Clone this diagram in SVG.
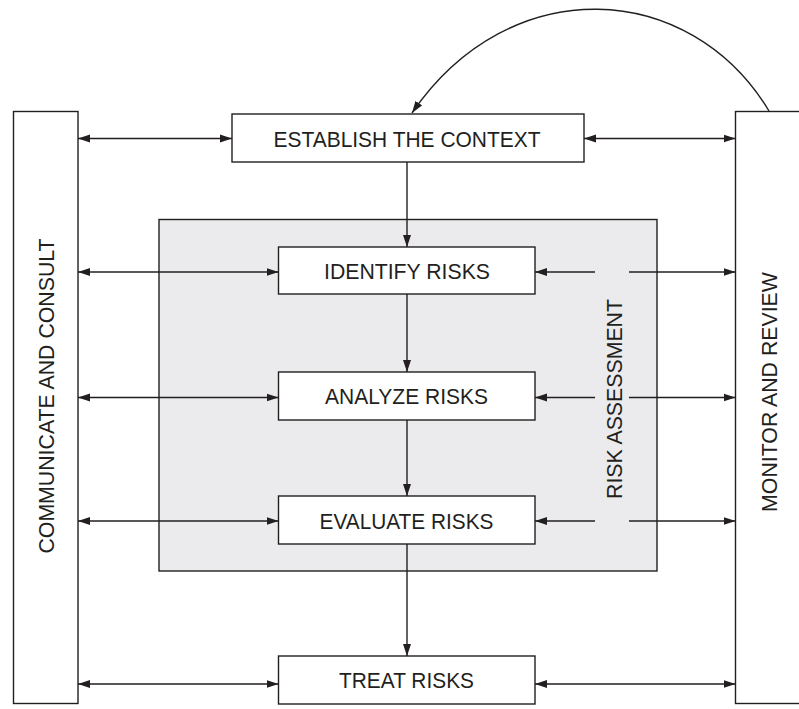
<svg xmlns="http://www.w3.org/2000/svg" width="799" height="709" viewBox="0 0 799 709">
<style>
.box{fill:#ffffff;stroke:#231f20;stroke-width:1.4}
.bar{fill:#ffffff;stroke:#231f20;stroke-width:1.4}
.grp{fill:#ebebed;stroke:#231f20;stroke-width:1.4}
.ln{fill:none;stroke:#231f20;stroke-width:1.4}
.t{font-family:"Liberation Sans",Arial,sans-serif;font-size:22.5px;fill:#231f20;text-anchor:middle}
.v{font-family:"Liberation Sans",Arial,sans-serif;font-size:21.3px;fill:#231f20;text-anchor:middle}
</style>
<defs>
<marker id="ah" markerUnits="userSpaceOnUse" markerWidth="13" markerHeight="9" refX="12" refY="4.5" orient="auto-start-reverse" viewBox="0 0 13 9">
<path d="M0,0.5 L12,4.5 L0,8.5 z" fill="#231f20"/>
</marker>
</defs>
<rect width="799" height="709" fill="#ffffff"/>
<g id="risk-assessment">
<rect class="grp" x="159" y="219.5" width="498" height="351.5"/>
<text class="v" transform="translate(622,399) rotate(-90)">RISK ASSESSMENT</text>
</g>
<g id="communicate">
<rect class="bar" x="13.5" y="111.5" width="64.5" height="592"/>
<text class="v" transform="translate(53.5,396) rotate(-90)">COMMUNICATE AND CONSULT</text>
</g>
<g id="monitor">
<rect class="bar" x="735.5" y="111.5" width="70" height="592"/>
<text class="v" transform="translate(777,392) rotate(-90)">MONITOR AND REVIEW</text>
</g>
<g id="establish">
<rect class="box" x="232" y="114" width="352" height="48"/>
<text class="t" x="407" y="146.5" textLength="267" lengthAdjust="spacingAndGlyphs">ESTABLISH THE CONTEXT</text>
</g>
<g id="identify">
<rect class="box" x="278.5" y="247" width="256.5" height="47"/>
<text class="t" x="407" y="279" textLength="166" lengthAdjust="spacingAndGlyphs">IDENTIFY RISKS</text>
</g>
<g id="analyze">
<rect class="box" x="278.5" y="372" width="256.5" height="48"/>
<text class="t" x="406.5" y="404" textLength="163" lengthAdjust="spacingAndGlyphs">ANALYZE RISKS</text>
</g>
<g id="evaluate">
<rect class="box" x="278.5" y="496" width="256.5" height="48"/>
<text class="t" x="406.5" y="529" textLength="174" lengthAdjust="spacingAndGlyphs">EVALUATE RISKS</text>
</g>
<g id="treat">
<rect class="box" x="278.5" y="656" width="256.5" height="48"/>
<text class="t" x="406.5" y="688" textLength="135" lengthAdjust="spacingAndGlyphs">TREAT RISKS</text>
</g>
<g id="connectors">
<path class="ln" d="M769,111 C690,-20 510,-30 412,113" marker-end="url(#ah)"/>
<line class="ln" x1="78" y1="138.5" x2="232" y2="138.5" marker-start="url(#ah)" marker-end="url(#ah)"/>
<line class="ln" x1="584" y1="138.5" x2="735.5" y2="138.5" marker-start="url(#ah)" marker-end="url(#ah)"/>
<line class="ln" x1="407" y1="162" x2="407" y2="247" marker-end="url(#ah)"/>
<line class="ln" x1="407" y1="294" x2="407" y2="372" marker-end="url(#ah)"/>
<line class="ln" x1="407" y1="420" x2="407" y2="496" marker-end="url(#ah)"/>
<line class="ln" x1="407" y1="544" x2="407" y2="656" marker-end="url(#ah)"/>
<line class="ln" x1="78" y1="272" x2="278.5" y2="272" marker-start="url(#ah)" marker-end="url(#ah)"/>
<line class="ln" x1="595" y1="272" x2="535" y2="272" marker-end="url(#ah)"/>
<line class="ln" x1="629" y1="272" x2="735.5" y2="272" marker-end="url(#ah)"/>
<line class="ln" x1="78" y1="397.5" x2="278.5" y2="397.5" marker-start="url(#ah)" marker-end="url(#ah)"/>
<line class="ln" x1="595" y1="397.5" x2="535" y2="397.5" marker-end="url(#ah)"/>
<line class="ln" x1="629" y1="397.5" x2="735.5" y2="397.5" marker-end="url(#ah)"/>
<line class="ln" x1="78" y1="521" x2="278.5" y2="521" marker-start="url(#ah)" marker-end="url(#ah)"/>
<line class="ln" x1="595" y1="521" x2="535" y2="521" marker-end="url(#ah)"/>
<line class="ln" x1="629" y1="521" x2="735.5" y2="521" marker-end="url(#ah)"/>
<line class="ln" x1="78" y1="684" x2="278.5" y2="684" marker-start="url(#ah)" marker-end="url(#ah)"/>
<line class="ln" x1="535" y1="684" x2="735.5" y2="684" marker-start="url(#ah)" marker-end="url(#ah)"/>
</g>
</svg>
